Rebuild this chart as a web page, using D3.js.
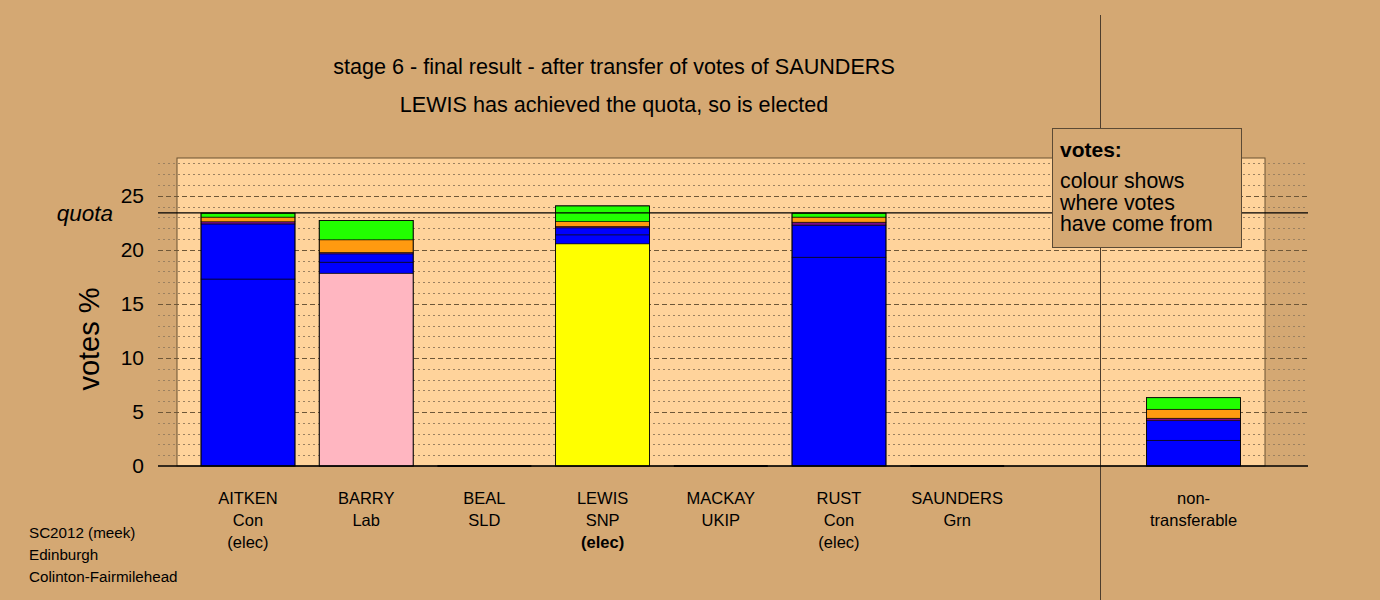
<!DOCTYPE html>
<html>
<head>
<meta charset="utf-8">
<script src="https://cdn.jsdelivr.net/npm/d3@7"></script>
<style>
  html, body { margin: 0; padding: 0; background: #D4A873; }
  svg { display: block; font-family: "Liberation Sans", Arial, Helvetica, sans-serif; }
</style>
</head>
<body>
<svg id="chart" width="1380" height="600"></svg>
<script>
// ---------- data ----------
const slots = ["AITKEN", "BARRY", "BEAL", "LEWIS", "MACKAY", "RUST", "SAUNDERS", "gap", "non-transferable"];
const candidates = ["AITKEN", "BARRY", "BEAL", "LEWIS", "MACKAY", "RUST", "SAUNDERS", "non-transferable"];
const labelLine1 = ["AITKEN", "BARRY", "BEAL", "LEWIS", "MACKAY", "RUST", "SAUNDERS", "non-"];
const labelLine2 = ["Con", "Lab", "SLD", "SNP", "UKIP", "Con", "Grn", "transferable"];
const labelLine3 = ["(elec)", "", "", "(elec)", "", "(elec)", "", ""];
const boldLine3 = [false, false, false, true, false, false, false, false];
const ownParty = ["Con", "Lab", "SLD", "SNP", "UKIP", "Con", "Grn", "none"];

// stages: first preferences, then transfers from each source
const stageSource = ["first", "AITKEN", "RUST", "MACKAY", "BEAL", "SAUNDERS"];
const stageParty = [null, "Con", "Con", "UKIP", "SLD", "Grn"];

const votesAITKEN   = [17.30, 0.00, 5.10, 0.20, 0.43, 0.37];
const votesBARRY    = [17.84, 1.02, 0.77, 0.12, 1.18, 1.78];
const votesBEAL     = [0, 0, 0, 0, 0, 0];
const votesLEWIS    = [20.56, 0.83, 0.65, 0.12, 0.46, 1.45];
const votesMACKAY   = [0, 0, 0, 0, 0, 0];
const votesRUST     = [19.32, 2.97, 0.00, 0.27, 0.47, 0.37];
const votesSAUNDERS = [0, 0, 0, 0, 0, 0];
const votesNonTrans = [0.00, 2.38, 1.81, 0.23, 0.83, 1.07];
const allVotes = [votesAITKEN, votesBARRY, votesBEAL, votesLEWIS, votesMACKAY, votesRUST, votesSAUNDERS, votesNonTrans];

const quota = 23.43;
const yTicks = [0, 5, 10, 15, 20, 25];
const titleLines = ["stage 6 - final result - after transfer of votes of SAUNDERS",
                    "LEWIS has achieved the quota, so is elected"];
const legendLines = ["colour shows", "where votes", "have come from"];
const footLines = ["SC2012 (meek)", "Edinburgh", "Colinton-Fairmilehead"];

const partyColor = {
  Con: "#0000FF", Lab: "#FFB6C1", SNP: "#FFFF00", SLD: "#FF9A10",
  UKIP: "#7A0A8A", Grn: "#22FF00", none: "#cccccc"
};

// ---------- layout ----------
const svg = d3.select("#chart");
const bg = "#D4A873";
const panelFill = "#FFD39B";
const plot = { left: 177, right: 1265, top: 158, bottom: 466, gridL: 158, gridR: 1308 };

const y = d3.scaleLinear().domain([0, 28.5]).range([plot.bottom, plot.top]);
const x = d3.scaleBand().domain(slots).range([188.9, 1252.7]).paddingInner(0.205).paddingOuter(0.1025);

svg.append("rect").attr("width", 1380).attr("height", 600).attr("fill", bg);

// panel
svg.append("rect")
  .attr("x", plot.left).attr("y", plot.top)
  .attr("width", plot.right - plot.left).attr("height", plot.bottom - plot.top)
  .attr("fill", panelFill).attr("stroke", "#6b5233").attr("stroke-width", 1);

// grid lines
const gridVals = d3.range(1, 29);
svg.append("g").selectAll("line").data(gridVals).join("line")
  .attr("x1", plot.gridL).attr("x2", plot.gridR)
  .attr("y1", d => Math.round(y(d)) + 0.5).attr("y2", d => Math.round(y(d)) + 0.5)
  .attr("stroke", d => d % 5 === 0 ? "#6e5738" : "#9c8160")
  .attr("stroke-width", 1)
  .attr("stroke-dasharray", d => d % 5 === 0 ? "5,3" : "2,3");

// vertical separator
svg.append("line")
  .attr("x1", 1100.5).attr("x2", 1100.5).attr("y1", 15).attr("y2", 600)
  .attr("stroke", "#4d3d2c").attr("stroke-width", 1);

// bars
const barG = svg.append("g");
candidates.forEach((c, i) => {
  const vals = allVotes[i];
  let cum = 0;
  const segs = vals.map((v, s) => {
    const seg = { y0: cum, y1: cum + v, party: s === 0 ? ownParty[i] : stageParty[s] };
    cum += v;
    return seg;
  }).filter(s => s.y1 - s.y0 > 0);
  const g = barG.append("g");
  g.selectAll("rect").data(segs).join("rect")
    .attr("x", x(c)).attr("width", x.bandwidth())
    .attr("y", d => y(d.y1)).attr("height", d => y(d.y0) - y(d.y1))
    .attr("fill", d => partyColor[d.party])
    .attr("stroke", "#000").attr("stroke-width", 0.6);
  if (cum > 0) {
    g.append("rect")
      .attr("x", x(c)).attr("width", x.bandwidth())
      .attr("y", y(cum)).attr("height", y(0) - y(cum))
      .attr("fill", "none").attr("stroke", "#000").attr("stroke-width", 0.8);
  } else {
    g.append("line")
      .attr("x1", x(c)).attr("x2", x(c) + x.bandwidth())
      .attr("y1", y(0)).attr("y2", y(0))
      .attr("stroke", "#000").attr("stroke-width", 2);
  }
});

// quota line
svg.append("line")
  .attr("x1", plot.gridL).attr("x2", plot.gridR)
  .attr("y1", y(quota)).attr("y2", y(quota))
  .attr("stroke", "#000").attr("stroke-width", 1.2);
svg.append("text")
  .attr("x", 113).attr("y", y(quota)).attr("dy", "0.35em")
  .attr("text-anchor", "end").attr("font-style", "italic")
  .attr("font-size", 22.5).text("quota");

// baseline
svg.append("line")
  .attr("x1", plot.gridL).attr("x2", plot.gridR)
  .attr("y1", y(0)).attr("y2", y(0))
  .attr("stroke", "#000").attr("stroke-width", 1.5);

// y axis labels
const yAxis = d3.axisLeft(y).tickValues(yTicks).tickSize(0).tickPadding(0).tickFormat(d3.format("d"));
const yg = svg.append("g").attr("transform", "translate(144,0)").call(yAxis);
yg.select(".domain").remove();
yg.selectAll("text").attr("font-size", 21).attr("fill", "#000")
  .attr("font-family", "Liberation Sans, Arial, sans-serif");

svg.append("text")
  .attr("transform", "translate(99,339) rotate(-90)")
  .attr("text-anchor", "middle").attr("font-size", 29).text("votes %");

// titles
titleLines.forEach((t, i) => {
  svg.append("text").attr("x", 614).attr("y", 74 + i * 38)
    .attr("text-anchor", "middle").attr("font-size", 21.6).text(t);
});

// category labels
candidates.forEach((c, i) => {
  const cx = x(c) + x.bandwidth() / 2;
  const lines = [labelLine1[i], labelLine2[i], labelLine3[i]];
  lines.forEach((t, j) => {
    if (!t) return;
    svg.append("text").attr("x", cx).attr("y", 503.5 + j * 22)
      .attr("text-anchor", "middle").attr("font-size", 16.5)
      .attr("font-weight", j === 2 && boldLine3[i] ? "bold" : "normal")
      .text(t);
  });
});

// legend
svg.append("rect").attr("x", 1052.5).attr("y", 128.5).attr("width", 189).attr("height", 119)
  .attr("fill", bg).attr("stroke", "#5b4a35").attr("stroke-width", 1);
svg.append("text").attr("x", 1060).attr("y", 157).attr("font-size", 21)
  .attr("font-weight", "bold").text("votes:");
legendLines.forEach((t, i) => {
  svg.append("text").attr("x", 1060).attr("y", 188 + i * 21.5).attr("font-size", 21.3).text(t);
});

// footer
footLines.forEach((t, i) => {
  svg.append("text").attr("x", 29).attr("y", 538 + i * 22).attr("font-size", 15.2).text(t);
});
</script>
</body>
</html>
